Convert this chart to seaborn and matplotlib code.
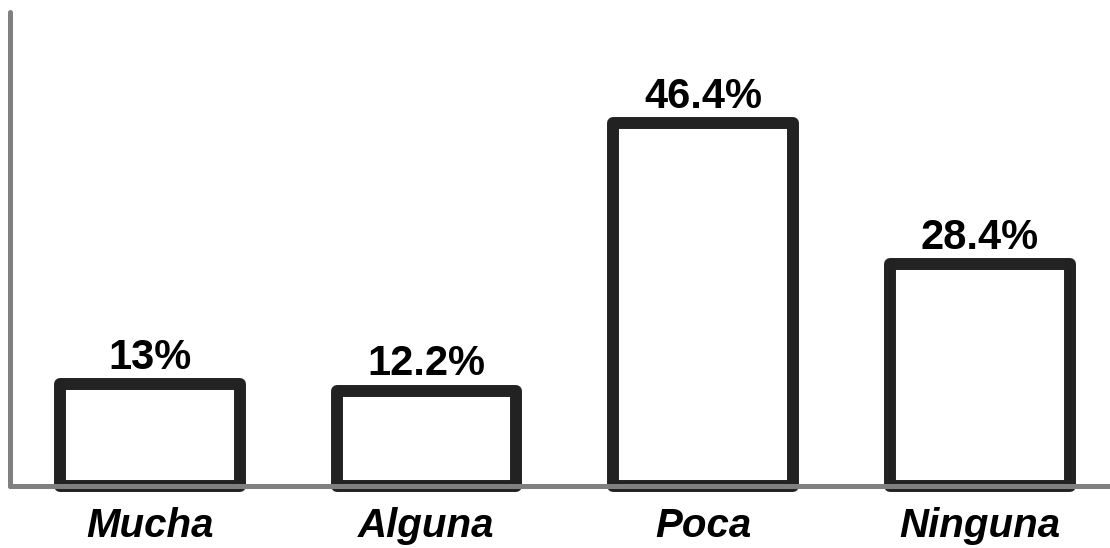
import matplotlib
matplotlib.use("Agg")
import matplotlib.pyplot as plt
import seaborn as sns
import pandas as pd

categorias = ['Mucha', 'Alguna', 'Poca', 'Ninguna']
porcentajes = [13, 12.2, 46.4, 28.4]
etiquetas = ['13%', '12.2%', '46.4%', '28.4%']

sns.set_style("white")
plt.rcParams['font.family'] = ['Liberation Sans', 'DejaVu Sans']

df = pd.DataFrame({'cat': categorias, 'pct': porcentajes})

fig = plt.figure(figsize=(11.1, 5.48), dpi=100)
ax = fig.add_axes([10 / 1110, 62 / 548, 1 - 10 / 1110, 474 / 548])

sns.barplot(data=df, x='cat', y='pct', ax=ax, color='white', width=0.65,
            edgecolor='#222222', linewidth=8.6)
for p in ax.patches:
    p.set_joinstyle('round')
    p.set_facecolor('white')
    p.set_clip_on(False)

for p, txt in zip(ax.patches, etiquetas):
    ax.annotate(txt, (p.get_x() + p.get_width() / 2, p.get_height()),
                xytext=(0, 11), textcoords='offset points',
                ha='center', va='baseline', fontsize=30, fontweight='bold',
                color='black')

ax.set_xlim(-0.505, 3.47)
ax.set_ylim(0, 60.6)
ax.set_xlabel('')
ax.set_ylabel('')
ax.set_yticks([])
ax.tick_params(axis='x', length=0, pad=15)
for lab in ax.get_xticklabels():
    lab.set_fontsize(29)
    lab.set_fontweight('bold')
    lab.set_fontstyle('italic')
    lab.set_color('black')

for s in ['top', 'right']:
    ax.spines[s].set_visible(False)
for s in ['left', 'bottom']:
    ax.spines[s].set_color('#808080')
    ax.spines[s].set_linewidth(3.6)
    ax.spines[s].set_capstyle('round')
    ax.spines[s].set_zorder(3)

fig.savefig('out.png', dpi=100)
